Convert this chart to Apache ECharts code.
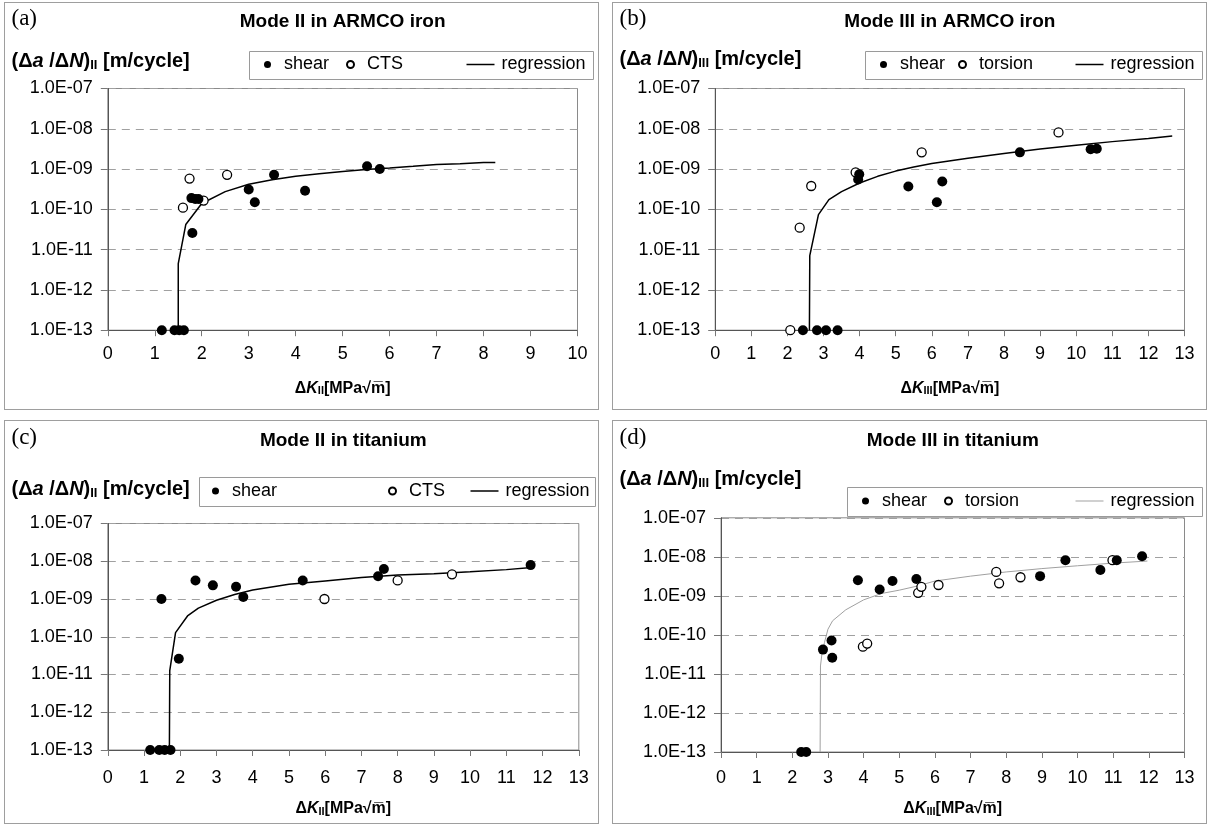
<!DOCTYPE html>
<html>
<head>
<meta charset="utf-8">
<script src="https://cdn.jsdelivr.net/npm/echarts@6/dist/echarts.min.js"></script>
<style>
  html, body { margin: 0; padding: 0; background: #fff; width: 1214px; height: 826px; overflow: hidden; }
  .panel { position: absolute; box-sizing: border-box; border: 1.5px solid #9e9e9e; background: #fff; }
</style>
</head>
<body>
<div id="pa" class="panel"></div>
<div id="pb" class="panel"></div>
<div id="pc" class="panel"></div>
<div id="pd" class="panel"></div>
<script>
// ---------- data: ΔK [MPa√m] and crack growth rate Δa/ΔN [m/cycle] ----------

// (a) Mode II in ARMCO iron
const ironIIShearK    = [1.15, 1.42, 1.52, 1.62, 1.78, 1.86, 1.93, 1.80, 3.00, 3.13, 3.54, 4.20, 5.52, 5.79];
const ironIIShearRate = [1e-13, 1e-13, 1e-13, 1e-13, 1.9e-10, 1.8e-10, 1.8e-10, 2.6e-11, 3.1e-10, 1.5e-10, 7.2e-10, 2.9e-10, 1.17e-9, 1.0e-9];
const ironIICtsK      = [1.74, 1.60, 2.04, 2.54];
const ironIICtsRate   = [5.8e-10, 1.1e-10, 1.65e-10, 7.2e-10];
const ironIIRegK      = [1.50, 1.50, 1.66, 2.0, 2.5, 3.0, 3.5, 4.0, 4.5, 5.0, 5.5, 6.0, 6.5, 7.0, 7.5, 8.0, 8.25];
const ironIIRegRate   = [1e-13, 4.5e-12, 4.2e-11, 1.4e-10, 2.75e-10, 4.2e-10, 5.4e-10, 6.6e-10, 7.6e-10, 8.7e-10, 9.8e-10, 1.07e-9, 1.17e-9, 1.29e-9, 1.35e-9, 1.45e-9, 1.45e-9];

// (b) Mode III in ARMCO iron
const ironIIIShearK      = [2.43, 2.82, 3.07, 3.39, 3.99, 3.96, 5.35, 6.14, 6.29, 8.44, 10.40, 10.57];
const ironIIIShearRate   = [1e-13, 1e-13, 1e-13, 1e-13, 7.4e-10, 5.5e-10, 3.7e-10, 1.5e-10, 4.9e-10, 2.6e-9, 3.1e-9, 3.2e-9];
const ironIIITorsionK    = [2.08, 2.34, 2.66, 3.89, 5.72, 9.51];
const ironIIITorsionRate = [1e-13, 3.5e-11, 3.8e-10, 8.3e-10, 2.6e-9, 8.1e-9];
const ironIIIRegK        = [2.61, 2.62, 2.86, 3.15, 3.5, 4.0, 4.5, 5.0, 5.5, 6.0, 7.0, 8.0, 9.0, 10.0, 11.0, 12.0, 12.66];
const ironIIIRegRate     = [1e-13, 7.1e-12, 7.4e-11, 1.74e-10, 2.75e-10, 4.5e-10, 6.6e-10, 8.9e-10, 1.12e-9, 1.38e-9, 1.86e-9, 2.45e-9, 3.16e-9, 3.9e-9, 4.8e-9, 5.75e-9, 6.6e-9];

// (c) Mode II in titanium
const tiIIShearK    = [1.17, 1.42, 1.57, 1.73, 1.48, 1.96, 2.42, 2.90, 3.54, 3.74, 5.38, 7.46, 7.62, 11.67];
const tiIIShearRate = [1e-13, 1e-13, 1e-13, 1e-13, 1.0e-9, 2.6e-11, 3.1e-9, 2.3e-9, 2.1e-9, 1.13e-9, 3.1e-9, 4.0e-9, 6.2e-9, 7.9e-9];
const tiIICtsK      = [5.98, 8.00, 9.50];
const tiIICtsRate   = [1.0e-9, 3.1e-9, 4.5e-9];
const tiIIRegK      = [1.70, 1.71, 1.87, 2.2, 2.5, 3.0, 3.5, 4.0, 5.0, 6.0, 7.0, 8.0, 9.0, 10.0, 11.0, 11.7];
const tiIIRegRate   = [1e-13, 1.26e-11, 1.29e-10, 3.55e-10, 5.75e-10, 9.3e-10, 1.32e-9, 1.74e-9, 2.45e-9, 3.0e-9, 3.7e-9, 4.3e-9, 4.7e-9, 5.25e-9, 6.0e-9, 6.8e-9];

// (d) Mode III in titanium
const tiIIIShearK      = [2.25, 2.39, 2.86, 3.10, 3.12, 3.84, 4.45, 4.81, 5.48, 8.95, 9.66, 10.64, 11.10, 11.81];
const tiIIIShearRate   = [1e-13, 1e-13, 4.2e-11, 7.2e-11, 2.6e-11, 2.5e-9, 1.45e-9, 2.4e-9, 2.7e-9, 3.2e-9, 8.2e-9, 4.6e-9, 8.2e-9, 1.04e-8];
const tiIIITorsionK    = [3.98, 4.10, 5.53, 5.62, 6.10, 7.72, 7.80, 8.40, 10.98];
const tiIIITorsionRate = [5.0e-11, 6.0e-11, 1.2e-9, 1.7e-9, 1.9e-9, 4.1e-9, 2.1e-9, 3.0e-9, 8.2e-9];
const tiIIIRegK        = [2.78, 2.79, 2.83, 2.90, 3.0, 3.13, 3.5, 4.0, 4.5, 5.0, 5.5, 6.0, 7.0, 8.0, 9.0, 10.0, 11.0, 11.96];
const tiIIIRegRate     = [1e-13, 1.6e-11, 3.2e-11, 6.3e-11, 1.4e-10, 2.3e-10, 4.4e-10, 7.9e-10, 1.15e-9, 1.4e-9, 1.78e-9, 2.4e-9, 3.2e-9, 4.1e-9, 5.0e-9, 5.9e-9, 6.9e-9, 7.8e-9];

// axis ranges
const rateMin = 1e-13;
const rateMax = 1e-7;

// ---------- styling ----------
const FONT  = "'Liberation Sans', Arial, sans-serif";
const SERIF = "'Liberation Serif', 'Times New Roman', serif";

function zip(xs, ys) { return xs.map((x, i) => [x, ys[i]]); }

function expLabel(v) {
  const e = Math.round(Math.log10(v));
  return '1.0E' + (e < 0 ? '-' : '+') + String(Math.abs(e)).padStart(2, '0');
}

function rich(size, subSize) {
  return {
    b:   { fontFamily: FONT, fontWeight: 'bold', fontSize: size, color: '#000' },
    bi:  { fontFamily: FONT, fontWeight: 'bold', fontStyle: 'italic', fontSize: size, color: '#000' },
    sub: { fontFamily: FONT, fontWeight: 'bold', fontSize: subSize, color: '#000',
           verticalAlign: 'bottom', lineHeight: Math.round(size * 0.95) }
  };
}

// panel layout in page pixels
const panels = [
  {
    id: 'pa', box: [4, 2, 599, 410], plot: [108.3, 89, 578, 330.7], xMax: 10,
    letter: '(a)', title: 'Mode II in ARMCO iron', mode: 'II', openName: 'CTS',
    titleY: 22, yTitleY: 64, labelMargin: 15, nameGap: 50,
    legendBox: [250, 52, 594, 80], legendX: [264.5, 346.5, 467],
    shear: zip(ironIIShearK, ironIIShearRate), open: zip(ironIICtsK, ironIICtsRate),
    reg: zip(ironIIRegK, ironIIRegRate), regColor: '#000', regWidth: 1.5
  },
  {
    id: 'pb', box: [612, 2, 1207, 410], plot: [715.7, 89, 1185, 330.7], xMax: 13,
    letter: '(b)', title: 'Mode III in ARMCO iron', mode: 'III', openName: 'torsion',
    titleY: 22, yTitleY: 62, labelMargin: 15, nameGap: 50,
    legendBox: [866, 52, 1203, 80], legendX: [880.5, 958.5, 1076],
    shear: zip(ironIIIShearK, ironIIIShearRate), open: zip(ironIIITorsionK, ironIIITorsionRate),
    reg: zip(ironIIIRegK, ironIIIRegRate), regColor: '#000', regWidth: 1.5
  },
  {
    id: 'pc', box: [4, 420, 599, 824], plot: [108.3, 524, 579.3, 751], xMax: 13,
    letter: '(c)', title: 'Mode II in titanium', mode: 'II', openName: 'CTS',
    titleY: 441, yTitleY: 492, labelMargin: 19, nameGap: 51,
    legendBox: [200, 478, 596, 507], legendX: [212.5, 388.5, 471],
    shear: zip(tiIIShearK, tiIIShearRate), open: zip(tiIICtsK, tiIICtsRate),
    reg: zip(tiIIRegK, tiIIRegRate), regColor: '#000', regWidth: 1.5
  },
  {
    id: 'pd', box: [612, 420, 1207, 824], plot: [721.5, 518.3, 1185, 753.3], xMax: 13,
    letter: '(d)', title: 'Mode III in titanium', mode: 'III', openName: 'torsion',
    titleY: 441, yTitleY: 482, labelMargin: 17, nameGap: 49,
    legendBox: [848, 488, 1203, 517], legendX: [862.5, 944.5, 1076],
    shear: zip(tiIIIShearK, tiIIIShearRate), open: zip(tiIIITorsionK, tiIIITorsionRate),
    reg: zip(tiIIIRegK, tiIIIRegRate), regColor: '#a0a0a0', regWidth: 1
  }
];

function build(p) {
  const el = document.getElementById(p.id);
  const [bx1, by1, bx2, by2] = p.box;
  el.style.left = bx1 + 'px';
  el.style.top = by1 + 'px';
  el.style.width = (bx2 - bx1) + 'px';
  el.style.height = (by2 - by1) + 'px';
  const W = bx2 - bx1, H = by2 - by1;
  const [px1, py1, px2, py2] = p.plot;
  // the chart canvas sits inside the 1.5px panel border
  const L = (x) => x - bx1 - 1.5, T = (y) => y - by1 - 1.5;
  const [lx1, ly1, lx2, ly2] = p.legendBox;
  const legendMid = (ly1 + ly2) / 2;

  const chart = echarts.init(el, null, { renderer: 'canvas', width: W - 3, height: H - 3 });
  const legendText = (pad) => ({ fontFamily: FONT, fontSize: 18, color: '#000', padding: [0, 0, 0, pad] });
  const legendCommon = { orient: 'horizontal', padding: 0, itemGap: 0, selectedMode: false };

  chart.setOption({
    animation: false,
    backgroundColor: '#fff',
    grid: {
      left: L(px1), top: T(py1), width: px2 - px1, height: py2 - py1,
      show: true, borderColor: '#8a8a8a', borderWidth: 1, backgroundColor: '#fff'
    },
    legend: [
      Object.assign({}, legendCommon, {
        data: [{ name: 'shear', icon: 'circle' }], left: L(p.legendX[0]), top: T(legendMid) - 10,
        itemWidth: 7, itemHeight: 7, textStyle: legendText(8)
      }),
      Object.assign({}, legendCommon, {
        data: [{ name: p.openName, icon: 'circle' }], left: L(p.legendX[1]), top: T(legendMid) - 10,
        itemWidth: 7, itemHeight: 7, textStyle: legendText(8)
      }),
      Object.assign({}, legendCommon, {
        data: [{ name: 'regression', icon: 'rect' }], left: L(p.legendX[2]), top: T(legendMid) - 10,
        itemWidth: 28, itemHeight: p.regWidth, textStyle: legendText(2)
      })
    ],
    xAxis: {
      type: 'value', min: 0, max: p.xMax, interval: 1,
      axisLine: { show: true, onZero: false, lineStyle: { color: '#555', width: 1 } },
      axisTick: { show: true, length: 6, lineStyle: { color: '#777' } },
      axisLabel: { fontFamily: FONT, fontSize: 18, color: '#000', margin: p.labelMargin },
      splitLine: { show: false },
      name: '{b|Δ}{bi|K}{sub|' + p.mode + '}{b|[MPa√m\u0305]}',
      nameLocation: 'middle', nameGap: p.nameGap,
      nameTextStyle: { rich: rich(16, 11) }
    },
    yAxis: {
      type: 'log', logBase: 10, min: rateMin, max: rateMax,
      axisLine: { show: true, lineStyle: { color: '#555', width: 1 } },
      axisTick: { show: true, length: 7, lineStyle: { color: '#777' } },
      axisLabel: { fontFamily: FONT, fontSize: 18, color: '#000', margin: 15, formatter: expLabel },
      splitLine: { show: true, lineStyle: { color: '#a0a0a0', width: 1, type: [8, 6] } },
      minorTick: { show: false }
    },
    graphic: [
      { type: 'text', left: L(bx1 + 8), top: T(p.titleY) - 14,
        style: { text: p.letter, font: '23px ' + SERIF, fill: '#000' } },
      { type: 'text', x: L((px1 + px2) / 2), y: T(p.titleY),
        style: { text: p.title, font: 'bold 19px ' + FONT, fill: '#000', textAlign: 'center', textVerticalAlign: 'middle' } },
      { type: 'text', left: L(bx1 + 8), top: T(p.yTitleY) - 12,
        style: { text: '{b|(Δ}{bi|a}{b| /Δ}{bi|N}{b|)}{sub|' + p.mode + '}{b| [m/cycle]}', rich: rich(20, 13) } },
      { type: 'rect', shape: { x: L(lx1), y: T(ly1), width: lx2 - lx1, height: ly2 - ly1 },
        style: { fill: 'none', stroke: '#9a9a9a', lineWidth: 1 }, z: 0 }
    ],
    series: [
      { name: 'regression', type: 'line', data: p.reg, symbol: 'none', smooth: false,
        lineStyle: { color: p.regColor, width: p.regWidth }, itemStyle: { color: p.regColor }, z: 2 },
      { name: p.openName, type: 'scatter', data: p.open, symbol: 'circle', symbolSize: 9,
        itemStyle: { color: '#fff', borderColor: '#000', borderWidth: 1.3, opacity: 1 }, z: 3 },
      { name: 'shear', type: 'scatter', data: p.shear, symbol: 'circle', symbolSize: 10,
        itemStyle: { color: '#000', opacity: 1 }, z: 4 }
    ]
  });
}

panels.forEach(build);
</script>
</body>
</html>
